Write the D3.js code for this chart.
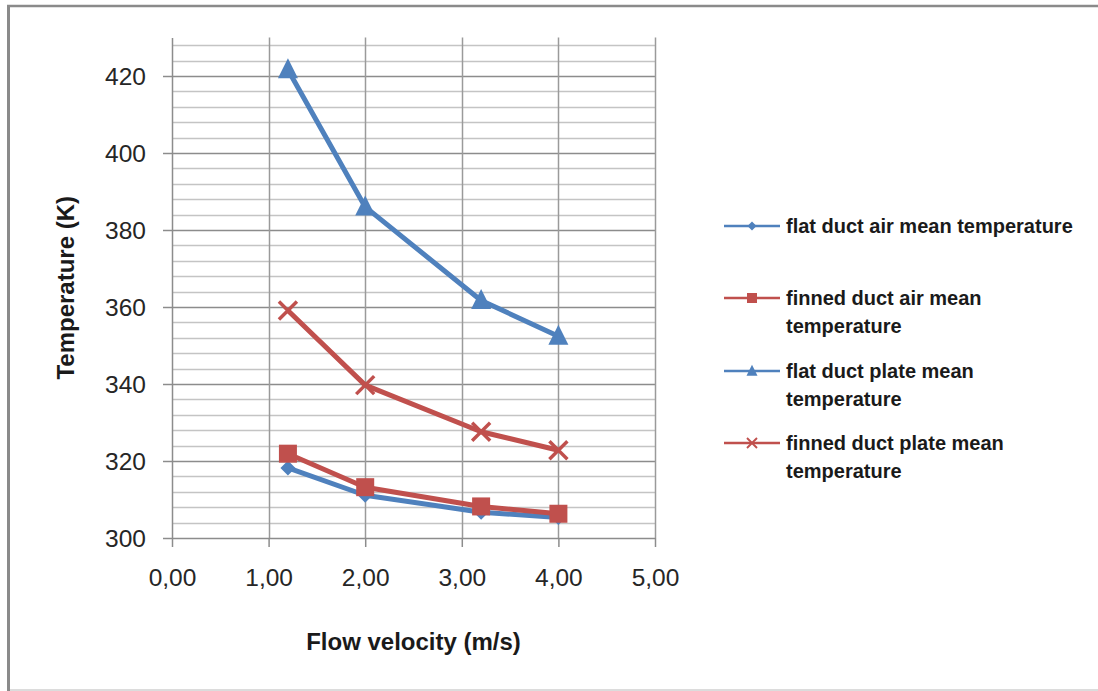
<!DOCTYPE html>
<html>
<head>
<meta charset="utf-8">
<script src="https://cdn.jsdelivr.net/npm/d3@7"></script>
<style>
  html, body { margin: 0; padding: 0; background: #fff; }
  svg { display: block; font-family: "Liberation Sans", Arial, sans-serif; }
</style>
</head>
<body>
<div id="chart"></div>
<script>
// flow velocity (m/s)
const velocity = [1.2, 2.0, 3.2, 4.0];

// series values (K)
const flatAir = [318.2, 311.1, 306.7, 305.3];
const finnedAir = [321.9, 313.2, 308.2, 306.3];
const flatPlate = [421.6, 386.0, 361.7, 352.4];
const finnedPlate = [359.1, 339.7, 327.6, 322.8];

const seriesNames = [
  ["flat duct air mean temperature"],
  ["finned duct air mean", "temperature"],
  ["flat duct plate mean", "temperature"],
  ["finned duct plate mean", "temperature"]
];

const xTicks = [0, 1, 2, 3, 4, 5];
const yTicks = [300, 320, 340, 360, 380, 400, 420];

const width = 1098, height = 691;
const blue = "#4f81bd", red = "#c0504d";

const svg = d3.select("#chart").append("svg")
  .attr("width", width)
  .attr("height", height);

// outer frame
svg.append("rect").attr("x", 0).attr("y", 0).attr("width", width).attr("height", height).attr("fill", "#fff");
svg.append("line").attr("x1", 8.5).attr("x2", 8.5).attr("y1", 5).attr("y2", 691)
  .attr("stroke", "#8a8a8a").attr("stroke-width", 3);
svg.append("line").attr("x1", 7).attr("x2", 1098).attr("y1", 6).attr("y2", 6)
  .attr("stroke", "#8a8a8a").attr("stroke-width", 2.5);
svg.append("line").attr("x1", 10).attr("x2", 1098).attr("y1", 690).attr("y2", 690)
  .attr("stroke", "#dcdcdc").attr("stroke-width", 2);

const x = d3.scaleLinear().domain([0, 5]).range([172, 655]);
const y = d3.scaleLinear().domain([300, 430]).range([538, 37.5]);

// minor horizontal grid every 4 K
const minor = d3.range(304, 430, 4).filter(v => v % 20 !== 0);
svg.append("g").selectAll("line").data(minor).enter().append("line")
  .attr("x1", x(0)).attr("x2", x(5))
  .attr("y1", d => Math.round(y(d)) + 0.5).attr("y2", d => Math.round(y(d)) + 0.5)
  .attr("stroke", "#c4c4c4").attr("stroke-width", 1.5);

// major horizontal grid
svg.append("g").selectAll("line").data(yTicks.filter(v => v > 300)).enter().append("line")
  .attr("x1", x(0)).attr("x2", x(5))
  .attr("y1", d => Math.round(y(d)) + 0.5).attr("y2", d => Math.round(y(d)) + 0.5)
  .attr("stroke", "#8c8c8c").attr("stroke-width", 1.5);

// vertical grid
svg.append("g").selectAll("line").data(xTicks.slice(1)).enter().append("line")
  .attr("x1", d => Math.round(x(d)) + 0.5).attr("x2", d => Math.round(x(d)) + 0.5)
  .attr("y1", y(430)).attr("y2", y(300))
  .attr("stroke", "#9a9a9a").attr("stroke-width", 1.5);

// axes
const fmt = d => d.toFixed(2).replace(".", ",");
const xAxis = svg.append("g")
  .attr("transform", "translate(0," + y(300) + ")")
  .call(d3.axisBottom(x).tickValues(xTicks).tickFormat(fmt).tickSize(9).tickSizeOuter(0).tickPadding(22));
const yAxis = svg.append("g")
  .attr("transform", "translate(" + x(0) + ",0)")
  .call(d3.axisLeft(y).tickValues(yTicks).tickSize(9).tickSizeOuter(0).tickPadding(17));

[xAxis, yAxis].forEach(g => {
  g.select(".domain").attr("stroke", "#8c8c8c").attr("stroke-width", 1.5);
  g.selectAll(".tick line").attr("stroke", "#8c8c8c").attr("stroke-width", 1.5);
  g.selectAll(".tick text").attr("fill", "#262626")
    .style("font-size", "24.5px").style("font-family", "Liberation Sans, Arial, sans-serif");
});
yAxis.selectAll(".tick text").attr("dy", "0.36em");

// axis titles
svg.append("text")
  .attr("x", (x(0) + x(5)) / 2).attr("y", 650)
  .attr("text-anchor", "middle")
  .style("font-size", "24px").style("font-weight", "bold").attr("fill", "#1a1a1a")
  .text("Flow velocity (m/s)");
svg.append("text")
  .attr("transform", "translate(74," + (y(300) + y(430)) / 2 + ") rotate(-90)")
  .attr("text-anchor", "middle")
  .style("font-size", "24px").style("font-weight", "bold").attr("fill", "#1a1a1a")
  .text("Temperature (K)");

// marker shapes
function marker(g, type, size, color) {
  if (type === "diamond") {
    g.append("path").attr("d", `M0,${-size}L${size},0L0,${size}L${-size},0Z`).attr("fill", color);
  } else if (type === "square") {
    g.append("rect").attr("x", -size).attr("y", -size).attr("width", 2 * size).attr("height", 2 * size).attr("fill", color);
  } else if (type === "triangle") {
    g.append("path").attr("d", `M0,${-size * 1.15}L${size},${size * 0.85}L${-size},${size * 0.85}Z`).attr("fill", color);
  } else if (type === "cross") {
    g.append("path").attr("d", `M${-size},${-size}L${size},${size}M${-size},${size}L${size},${-size}`)
      .attr("stroke", color).attr("stroke-width", size * 0.38).attr("fill", "none");
  }
}

const series = [
  { values: flatAir, color: blue, type: "diamond", size: 7.5, lsize: 4.5 },
  { values: finnedAir, color: red, type: "square", size: 9, lsize: 5 },
  { values: flatPlate, color: blue, type: "triangle", size: 10, lsize: 5.5 },
  { values: finnedPlate, color: red, type: "cross", size: 9, lsize: 5 }
];

const line = d3.line().x(d => x(d[0])).y(d => y(d[1]));

series.forEach(s => {
  const pts = velocity.map((v, i) => [v, s.values[i]]);
  svg.append("path").datum(pts)
    .attr("d", line)
    .attr("fill", "none").attr("stroke", s.color)
    .attr("stroke-width", 5).attr("stroke-linejoin", "round");
  pts.forEach(p => {
    const g = svg.append("g").attr("transform", "translate(" + x(p[0]) + "," + y(p[1]) + ")");
    marker(g, s.type, s.size, s.color);
  });
});

// legend
const legendY = [226, 298, 371, 443];
series.forEach((s, i) => {
  const g = svg.append("g").attr("transform", "translate(0," + legendY[i] + ")");
  g.append("line").attr("x1", 724).attr("x2", 780).attr("y1", 0).attr("y2", 0)
    .attr("stroke", s.color).attr("stroke-width", 2.5);
  const m = g.append("g").attr("transform", "translate(752,0)");
  marker(m, s.type, s.lsize, s.color);
  const t = g.append("text").attr("x", 786).attr("y", 0)
    .style("font-size", "20px").style("font-weight", "bold").attr("fill", "#1a1a1a");
  seriesNames[i].forEach((ln, j) => {
    t.append("tspan").attr("x", 786).attr("dy", j === 0 ? "0.36em" : "28px").text(ln);
  });
});
</script>
</body>
</html>
